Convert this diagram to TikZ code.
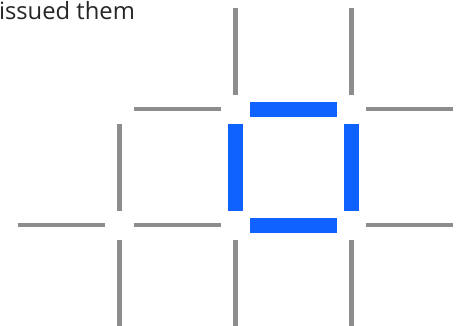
\documentclass[tikz,border=0pt]{standalone}
\usepackage{fontspec}
\setmainfont{Open Sans}
\definecolor{gridgray}{HTML}{8D8D8D}
\definecolor{pickblue}{HTML}{0F62FE}
\tikzset{
  gridseg/.style={draw=gridgray, line width=4.6pt, shorten <=14.5pt, shorten >=14.5pt},
  pickseg/.style={draw=pickblue, line width=15pt, shorten <=14.5pt, shorten >=14.5pt},
}
\begin{document}
\begin{tikzpicture}[x=1pt, y=-1pt]
\useasboundingbox (0,0) rectangle (464,325);
\clip (0,0) rectangle (464,325);
% grid points
\foreach \c/\gx in {0/3.5, 1/119.5, 2/235.5, 3/351.5, 4/467.5}
  \foreach \r/\gy in {0/-7, 1/109, 2/225, 3/341}
    \coordinate (g\c\r) at (\gx,\gy);

\node[anchor=base west, inner sep=0pt, font=\fontsize{23.8}{28}\selectfont, text=black!85] (caption) at (-1.2,19) {issued them};

% vertical grey segments
\foreach \c/\a/\b in {2/0/1, 3/0/1, 1/1/2, 1/2/3, 2/2/3, 3/2/3}
  \draw[gridseg] (g\c\a) -- (g\c\b);
% horizontal grey segments
\foreach \r/\a/\b in {1/1/2, 1/3/4, 2/0/1, 2/1/2, 2/3/4}
  \draw[gridseg] (g\a\r) -- (g\b\r);

% selected square
\draw[pickseg] (g21) -- (g31);
\draw[pickseg] (g22) -- (g32);
\draw[pickseg] (g21) -- (g22);
\draw[pickseg] (g31) -- (g32);
\end{tikzpicture}
\end{document}
